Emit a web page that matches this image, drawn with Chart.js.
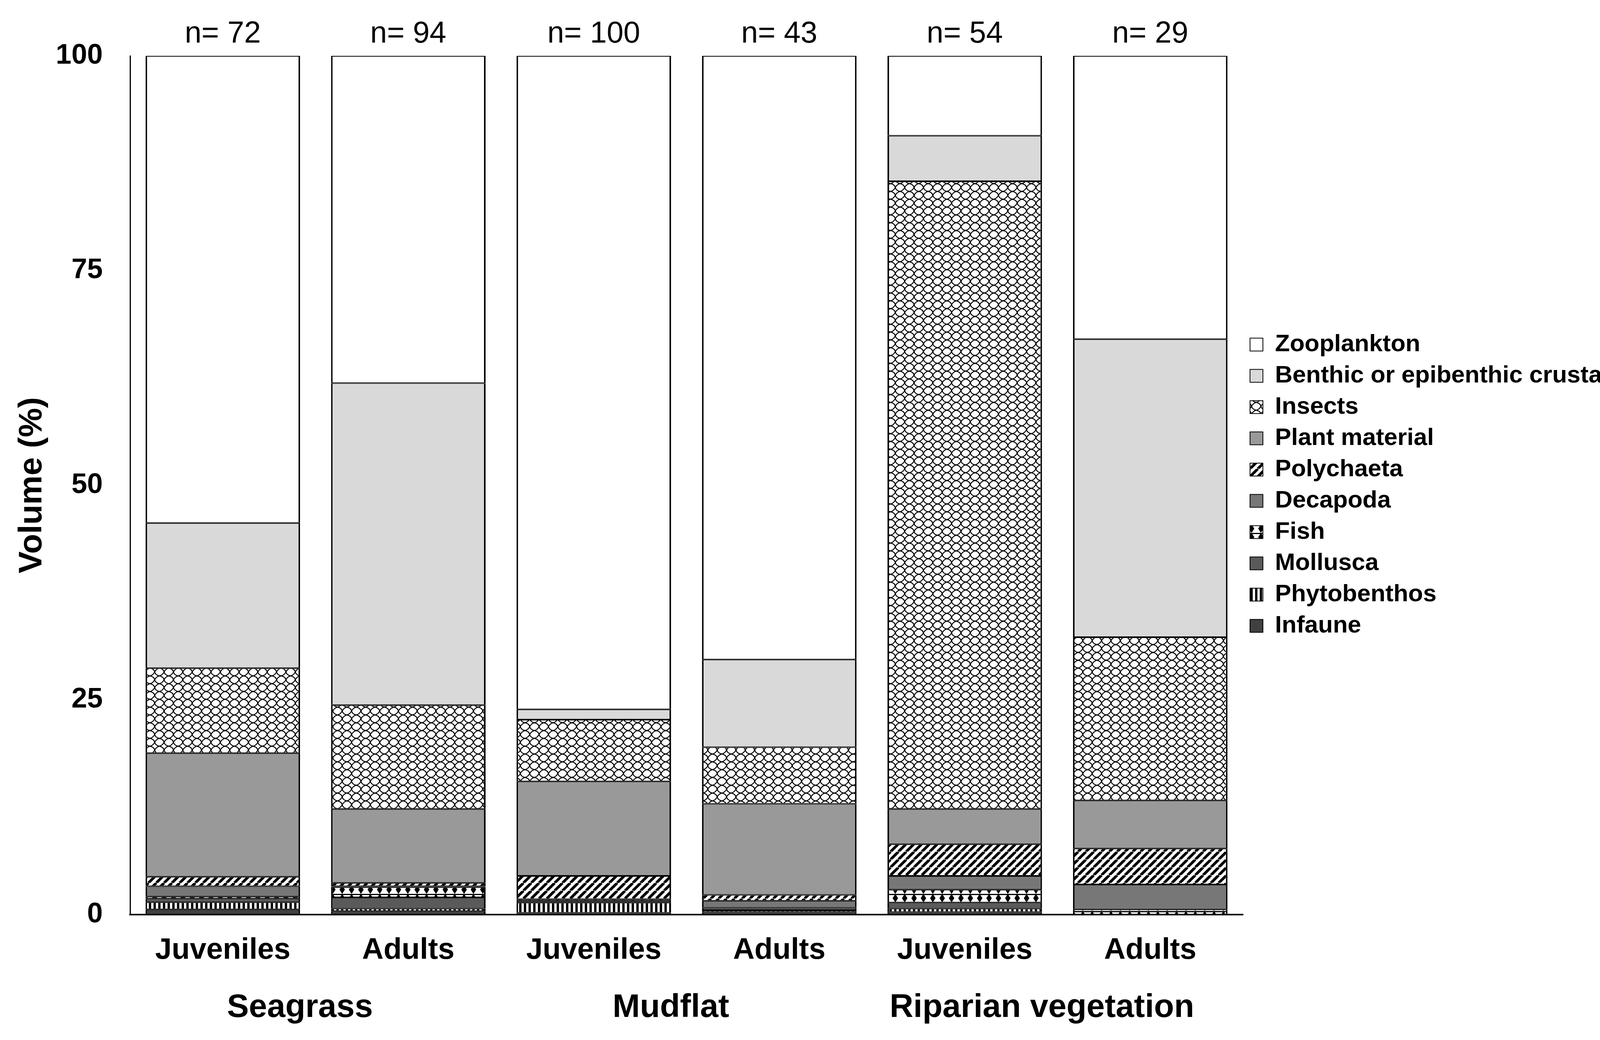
<!DOCTYPE html>
<html>
<head>
<meta charset="utf-8">
<script src="https://cdn.jsdelivr.net/npm/chart.js@4.4.1/dist/chart.umd.min.js"></script>
<style>
  html, body { margin: 0; padding: 0; background: #fff; }
  #wrap { width: 4321px; height: 2662px; }
</style>
</head>
<body>
<div id="wrap"><canvas id="chart"></canvas></div>
<script>
// categories and groups
const stages = ['Juveniles', 'Adults', 'Juveniles', 'Adults', 'Juveniles', 'Adults'];
const habitats = ['Seagrass', 'Mudflat', 'Riparian vegetation'];
const sampleSizes = ['n= 72', 'n= 94', 'n= 100', 'n= 43', 'n= 54', 'n= 29'];
const yTicks = [0, 25, 50, 75, 100];

// volume (%) per prey group
const zooplankton  = [54.4, 38.1, 76.1, 70.3, 9.3, 33.0];
const benthic      = [16.9, 37.5, 1.2, 10.2, 5.3, 34.7];
const insects      = [9.9, 12.1, 7.2, 6.6, 73.1, 19.0];
const plant        = [14.4, 8.6, 11.0, 10.6, 4.1, 5.6];
const polychaeta   = [1.1, 0.4, 2.7, 0.7, 3.7, 4.2];
const decapoda     = [1.2, 0.1, 0, 0.8, 1.6, 2.9];
const fish         = [0.25, 1.2, 0.2, 0, 1.5, 0.6];
const mollusca     = [0.4, 1.3, 0.2, 0.3, 0.7, 0];
const phytobenthos = [0.85, 0.3, 1.2, 0.2, 0.4, 0];
const infaune      = [0.6, 0.4, 0.2, 0.3, 0.3, 0];

const FONT = '"Liberation Sans", Arial, sans-serif';

// little helper to build fill patterns
function makePattern(w, h, draw) {
    const c = document.createElement('canvas');
    c.width = w; c.height = h;
    const g = c.getContext('2d');
    draw(g, w, h);
    return g.createPattern(c, 'repeat');
}

const stripes = makePattern(20, 20, (g, w, h) => {
    g.fillStyle = '#fff'; g.fillRect(0, 0, w, h);
    g.strokeStyle = '#000'; g.lineWidth = 7;
    for (let k = -1; k <= 1; k++) {
        g.beginPath();
        g.moveTo(k * w, h);
        g.lineTo(k * w + w, 0);
        g.stroke();
    }
});

// curved diamond lattice for insects
const lattice = makePattern(24, 20, (g, w, h) => {
    g.fillStyle = '#fff'; g.fillRect(0, 0, w, h);
    g.strokeStyle = '#000'; g.lineWidth = 2.5;
    g.beginPath();
    g.moveTo(0, 10); g.quadraticCurveTo(8, 8, 12, 0);
    g.moveTo(12, 0); g.quadraticCurveTo(14, 8, 24, 10);
    g.moveTo(24, 10); g.quadraticCurveTo(16, 12, 12, 20);
    g.moveTo(12, 20); g.quadraticCurveTo(10, 12, 0, 10);
    g.stroke();
});

const diamonds = makePattern(24, 22, (g, w, h) => {
    g.fillStyle = '#fff'; g.fillRect(0, 0, w, h);
    g.fillStyle = '#000';
    g.beginPath();
    g.moveTo(12, 0); g.lineTo(19, 11); g.lineTo(12, 22); g.lineTo(5, 11);
    g.closePath(); g.fill();
    g.fillRect(0, 0, w, 3);
});

const bars = makePattern(12, 12, (g, w, h) => {
    g.fillStyle = '#000'; g.fillRect(0, 0, w, h);
    g.fillStyle = '#fff'; g.fillRect(3, 0, 6, h);
});

function series(label, data, fill) {
    return {
        label: label,
        data: data,
        backgroundColor: fill,
        borderColor: '#000',
        borderWidth: { top: 2, bottom: 2, left: 4, right: 4 },
        borderSkipped: false,
        barPercentage: 0.833,
        categoryPercentage: 1.0
    };
}

// bottom of the stack first
const datasets = [
    series('Infaune', infaune, '#404040'),
    series('Phytobenthos', phytobenthos, bars),
    series('Mollusca', mollusca, '#5a5a5a'),
    series('Fish', fish, diamonds),
    series('Decapoda', decapoda, '#777777'),
    series('Polychaeta', polychaeta, stripes),
    series('Plant material', plant, '#999999'),
    series('Insects', insects, lattice),
    series('Benthic or epibenthic crustaceans', benthic, '#d9d9d9'),
    series('Zooplankton', zooplankton, '#ffffff')
];

// n= labels above each bar
const sampleLabels = {
    id: 'sampleLabels',
    afterDatasetsDraw(chart) {
        const ctx = chart.ctx;
        const x = chart.scales.x;
        ctx.save();
        ctx.font = '77px ' + FONT;
        ctx.fillStyle = '#000';
        ctx.textAlign = 'center';
        ctx.textBaseline = 'middle';
        sampleSizes.forEach((t, i) => {
            ctx.fillText(t, x.getPixelForValue(i), chart.chartArea.top - 55);
        });
        ctx.restore();
    }
};

Chart.defaults.color = '#000';
Chart.defaults.font.family = FONT;

new Chart(document.getElementById('chart'), {
    type: 'bar',
    data: { labels: stages, datasets: datasets },
    options: {
        responsive: true,
        maintainAspectRatio: false,
        animation: false,
        layout: { padding: { left: 22, top: 143, right: 34, bottom: 32 } },
        plugins: {
            tooltip: { enabled: false },
            legend: {
                position: 'right',
                fullSize: false,
                reverse: true,
                maxWidth: 1200,
                labels: {
                    boxWidth: 33,
                    boxHeight: 33,
                    padding: 18,
                    font: { size: 62, weight: 'bold', lineHeight: 1 },
                    generateLabels(chart) {
                        const items = Chart.defaults.plugins.legend.labels.generateLabels(chart);
                        items.forEach(it => { it.lineWidth = 2; });
                        return items;
                    }
                }
            }
        },
        scales: {
            x: {
                stacked: true,
                weight: 0,
                afterFit(s) { s.height = 137; },
                grid: { display: false, drawTicks: false },
                border: { display: true, color: '#000', width: 4 },
                ticks: { padding: 46, font: { size: 76, weight: 'bold' } }
            },
            x2: {
                type: 'category',
                labels: habitats,
                position: 'bottom',
                offset: true,
                weight: 1,
                afterFit(s) { s.height = 152; },
                grid: { display: false, drawTicks: false },
                border: { display: false },
                ticks: { padding: 51, labelOffset: -40, font: { size: 84, weight: 'bold' } }
            },
            y: {
                stacked: true,
                min: 0,
                max: 100,
                afterBuildTicks(scale) { scale.ticks = yTicks.map(v => ({ value: v })); },
                afterFit(s) { s.width = 311; },
                grid: { display: false, drawTicks: false },
                border: { display: true, color: '#000', width: 3 },
                ticks: { padding: 70, font: { size: 72, weight: 'bold' } },
                title: {
                    display: true,
                    text: 'Volume (%)',
                    font: { size: 84, weight: 'bold', lineHeight: 1 },
                    padding: { top: 19, bottom: 19 }
                }
            }
        }
    },
    plugins: [sampleLabels]
});
</script>
</body>
</html>
